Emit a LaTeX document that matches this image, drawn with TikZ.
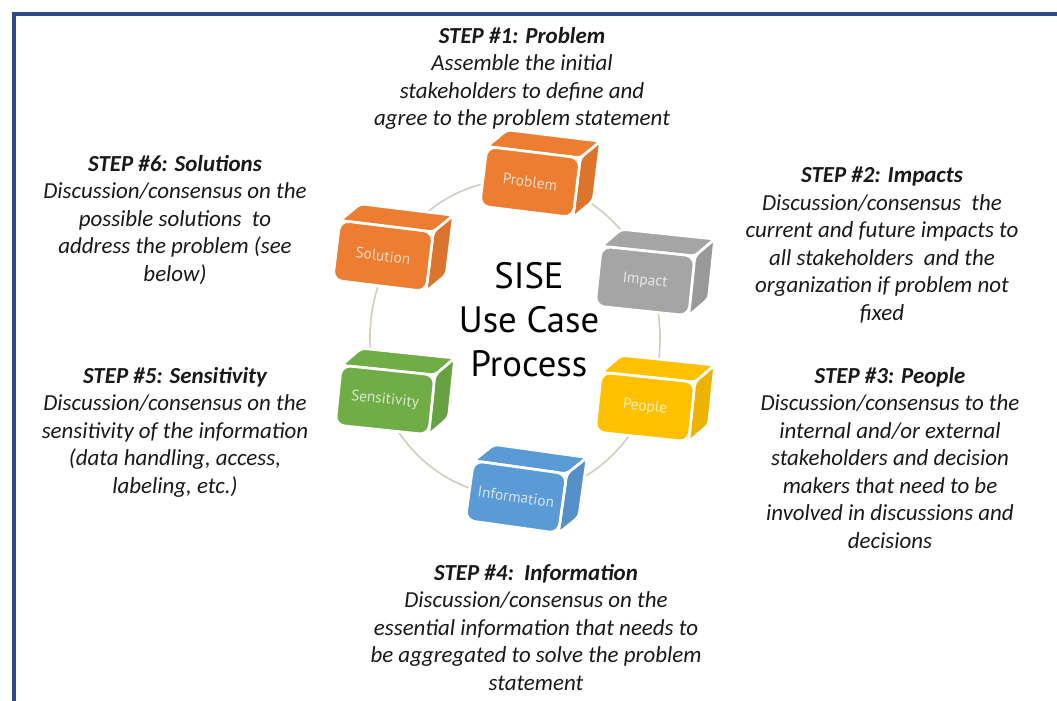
\documentclass[tikz,border=0pt]{standalone}
\usepackage{fontspec}
\setmainfont{Carlito}
\newfontfamily\titlefont{PT Sans}
\usetikzlibrary{positioning}
\usepackage{xcolor}

\definecolor{borderblue}{RGB}{48,72,140}
\definecolor{ringtan}{RGB}{214,204,188}
\definecolor{notegray}{RGB}{25,25,25}
\definecolor{cubeorange}{RGB}{237,125,49}
\definecolor{cubegray}{RGB}{165,165,165}
\definecolor{cubeyellow}{RGB}{255,192,0}
\definecolor{cubeblue}{RGB}{91,155,213}
\definecolor{cubegreen}{RGB}{112,173,71}

\tikzset{
  cubeface/.style={draw=white, line width=2pt, line join=round, rounded corners=3},
  cubelabel/.style={inner sep=0.75pt, font=\titlefont\fontsize{11.5}{13}\selectfont},
  stepnote/.style={anchor=north, align=center, inner sep=0pt, text=notegray,
    font=\fontsize{17.2}{20.6}\selectfont\itshape},
  sisetitle/.style={align=center, inner sep=0pt, text=black,
    font=\titlefont\fontsize{27.5}{33}\selectfont},
  ring/.style={draw=ringtan, line width=1.2pt},
}

% one box of the cycle: name, x, y, tilt, colour, label
\newcommand{\sisecube}[6]{%
  \begin{scope}[shift={(#2,#3)}, rotate=#4]
    \draw[cubeface, fill=#5] (-47,-30) -- (-29,-49) -- (65,-49) -- (47,-30) -- cycle;
    \draw[cubeface, fill=#5!93!black] (47,-30) -- (65,-49) -- (65,11) -- (47,30) -- cycle;
    \draw[cubeface, fill=#5, rounded corners=7] (-47,-30) rectangle (47,30);
    \node[cubelabel, text=white!72!#5, rotate=-#4] (#1) at (0,0) {#6};
  \end{scope}}

\begin{document}
\begin{tikzpicture}[x=0.75pt,y=0.75pt,yscale=-1,xscale=1]
\useasboundingbox (0,0) rectangle (1057,700);
\clip (0,0) rectangle (1057,700);
\fill[white] (0,0) rectangle (1057,700);

%Shape: Frame
\draw[borderblue, line width=3pt] (14,13.5) rectangle (1080,720);

%Shape: Ring behind the boxes
\coordinate (ringc) at (515,338);
\draw[ring] (ringc) ellipse [x radius=145, y radius=158];

%Boxes
\sisecube{problem}{530}{182}{7}{cubeorange}{Problem}
\sisecube{impact}{645}{281}{6}{cubegray}{Impact}
\sisecube{people}{645}{407}{6}{cubeyellow}{People}
\sisecube{information}{516}{497}{8}{cubeblue}{Information}
\sisecube{sensitivity}{385}{400}{6}{cubegreen}{Sensitivity}
\sisecube{solution}{383}{256}{7}{cubeorange}{Solution}

% Text Node
\node[sisetitle] (title) at (529,320) {SISE\\Use Case\\Process};

% Text Node
\node[stepnote] (step1) at (522,27) {{\bfseries STEP \#1: Problem}\\Assemble the initial\\stakeholders to define and\\agree to the problem statement};
% Text Node
\node[stepnote] (step2) at (882,167) {{\bfseries STEP \#2: Impacts}\\Discussion/consensus\ \ the\\current and future impacts to\\all stakeholders\ \ and the\\organization if problem not\\fixed};
% Text Node
\node[stepnote] (step3) at (890,367) {{\bfseries STEP \#3: People}\\Discussion/consensus to the\\internal and/or external\\stakeholders and decision\\makers that need to be\\involved in discussions and\\decisions};
% Text Node
\node[stepnote] (step4) at (536,564) {{\bfseries STEP \#4:\ \ Information}\\Discussion/consensus on the\\essential information that needs to\\be aggregated to solve the problem\\statement};
% Text Node
\node[stepnote] (step5) at (175,367) {{\bfseries STEP \#5: Sensitivity}\\Discussion/consensus on the\\sensitivity of the information\\(data handling, access,\\labeling, etc.)};
% Text Node
\node[stepnote] (step6) at (175,155) {{\bfseries STEP \#6: Solutions}\\Discussion/consensus on the\\possible solutions\ \ to\\address the problem (see\\below)};

\end{tikzpicture}
\end{document}
